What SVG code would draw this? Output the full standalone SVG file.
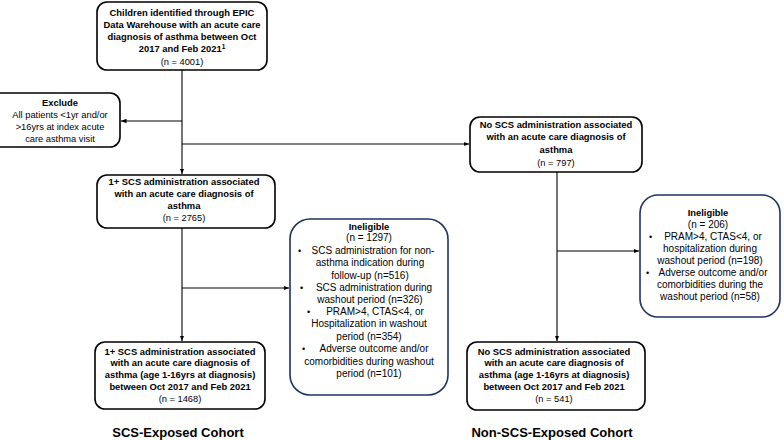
<svg xmlns="http://www.w3.org/2000/svg" width="784" height="440" viewBox="0 0 784 440">
<defs>
<marker id="ah" viewBox="0 0 10 10" refX="10" refY="5" markerWidth="5" markerHeight="5" orient="auto">
<path d="M0,1 L10,5 L0,9 z" fill="#000"/>
</marker>
<style>
.box{fill:#fff;stroke:#000;stroke-width:1.6}
.inel{fill:#fff;stroke:#1f3360;stroke-width:1.6}
.b{font-family:"Liberation Sans",Arial,sans-serif;font-size:9.4px;font-weight:bold;fill:#000;text-anchor:middle}
.r{font-family:"Liberation Sans",Arial,sans-serif;font-size:9.3px;fill:#000;text-anchor:middle}
.ri{font-family:"Liberation Sans",Arial,sans-serif;font-size:10px;fill:#000;text-anchor:middle}
.bl{font-family:"Liberation Sans",Arial,sans-serif;font-size:9px;fill:#000}
.lab{font-family:"Liberation Sans",Arial,sans-serif;font-size:13px;font-weight:bold;fill:#000;text-anchor:middle}
.ln{fill:none;stroke:#000;stroke-width:1.1}
</style>
</defs>
<rect width="784" height="440" fill="#fff"/>
<g id="connectors">
<line class="ln" x1="182" y1="70" x2="182" y2="174" marker-end="url(#ah)"/>
<line class="ln" x1="182" y1="121" x2="121" y2="121" marker-end="url(#ah)"/>
<line class="ln" x1="182" y1="144" x2="469" y2="144" marker-end="url(#ah)"/>
<line class="ln" x1="182" y1="228" x2="182" y2="341" marker-end="url(#ah)"/>
<line class="ln" x1="182" y1="288" x2="289" y2="288" marker-end="url(#ah)"/>
<line class="ln" x1="557" y1="172" x2="557" y2="341" marker-end="url(#ah)"/>
<line class="ln" x1="557" y1="251" x2="639" y2="251" marker-end="url(#ah)"/>
</g>
<g id="n-start">
<rect class="box" x="97" y="2" width="170" height="68" rx="10"/>
<text class="b" x="182" y="16">Children identified through EPIC</text>
<text class="b" x="182" y="28">Data Warehouse with an acute care</text>
<text class="b" x="182" y="40">diagnosis of asthma between Oct</text>
<text class="b" x="182" y="52">2017 and Feb 2021<tspan font-size="6.5" dy="-3">1</tspan></text>
<text class="r" x="182" y="65">(n = 4001)</text>
</g>
<g id="n-exclude">
<rect class="box" x="-10" y="93" width="130" height="54" rx="10"/>
<text class="b" x="60" y="106">Exclude</text>
<text class="r" x="60" y="118">All patients &lt;1yr and/or</text>
<text class="r" x="60" y="130">&gt;16yrs at index acute</text>
<text class="r" x="60" y="142">care asthma visit</text>
</g>
<g id="n-scs">
<rect class="box" x="97" y="175" width="178" height="53" rx="10"/>
<text class="b" x="184" y="185">1+ SCS administration associated</text>
<text class="b" x="184" y="197">with an acute care diagnosis of</text>
<text class="b" x="184" y="209">asthma</text>
<text class="r" x="184" y="221">(n = 2765)</text>
</g>
<g id="n-noscs">
<rect class="box" x="470" y="117" width="172" height="55" rx="10"/>
<text class="b" x="556" y="128">No SCS administration associated</text>
<text class="b" x="556" y="140">with an acute care diagnosis of</text>
<text class="b" x="556" y="153">asthma</text>
<text class="r" x="556" y="166">(n = 797)</text>
</g>
<g id="n-inel-left">
<rect class="inel" x="290" y="219" width="158" height="176" rx="20"/>
<text class="b" x="369" y="230">Ineligible</text>
<text class="ri" x="369" y="241">(n = 1297)</text>
<text class="bl" x="298" y="254">•</text>
<text class="ri" x="373" y="254">SCS administration for non-</text>
<text class="ri" x="370" y="266">asthma indication during</text>
<text class="ri" x="370" y="279">follow-up (n=516)</text>
<text class="bl" x="300" y="291">•</text>
<text class="ri" x="374" y="291">SCS administration during</text>
<text class="ri" x="370" y="303">washout period (n=326)</text>
<text class="bl" x="307" y="315">•</text>
<text class="ri" x="375" y="315">PRAM&gt;4, CTAS&lt;4, or</text>
<text class="ri" x="369" y="327">Hospitalization in washout</text>
<text class="ri" x="369" y="340">period (n=354)</text>
<text class="bl" x="302" y="352">•</text>
<text class="ri" x="374" y="352">Adverse outcome and/or</text>
<text class="ri" x="369" y="365">comorbidities during washout</text>
<text class="ri" x="369" y="377">period (n=101)</text>
</g>
<g id="n-inel-right">
<rect class="inel" x="640" y="195" width="140" height="122" rx="18"/>
<text class="b" x="708" y="216">Ineligible</text>
<text class="ri" x="708" y="228">(n = 206)</text>
<text class="bl" x="649" y="240">•</text>
<text class="ri" x="713" y="240">PRAM&gt;4, CTAS&lt;4, or</text>
<text class="ri" x="710" y="252">hospitalization during</text>
<text class="ri" x="710" y="264">washout period (n=198)</text>
<text class="bl" x="646" y="276">•</text>
<text class="ri" x="713" y="276">Adverse outcome and/or</text>
<text class="ri" x="710" y="288">comorbidities during the</text>
<text class="ri" x="710" y="300">washout period (n=58)</text>
</g>
<g id="n-scs-final">
<rect class="box" x="95" y="342" width="170" height="67" rx="10"/>
<text class="b" x="180" y="355">1+ SCS administration associated</text>
<text class="b" x="180" y="366">with an acute care diagnosis of</text>
<text class="b" x="180" y="378">asthma (age 1-16yrs at diagnosis)</text>
<text class="b" x="180" y="390">between Oct 2017 and Feb 2021</text>
<text class="r" x="180" y="402">(n = 1468)</text>
</g>
<g id="n-noscs-final">
<rect class="box" x="467" y="342" width="178" height="68" rx="10"/>
<text class="b" x="554" y="355">No SCS administration associated</text>
<text class="b" x="554" y="366">with an acute care diagnosis of</text>
<text class="b" x="554" y="378">asthma (age 1-16yrs at diagnosis)</text>
<text class="b" x="554" y="390">between Oct 2017 and Feb 2021</text>
<text class="r" x="554" y="402">(n = 541)</text>
</g>
<g id="labels">
<text class="lab" x="178" y="437">SCS-Exposed Cohort</text>
<text class="lab" x="552" y="437">Non-SCS-Exposed Cohort</text>
</g>
</svg>
